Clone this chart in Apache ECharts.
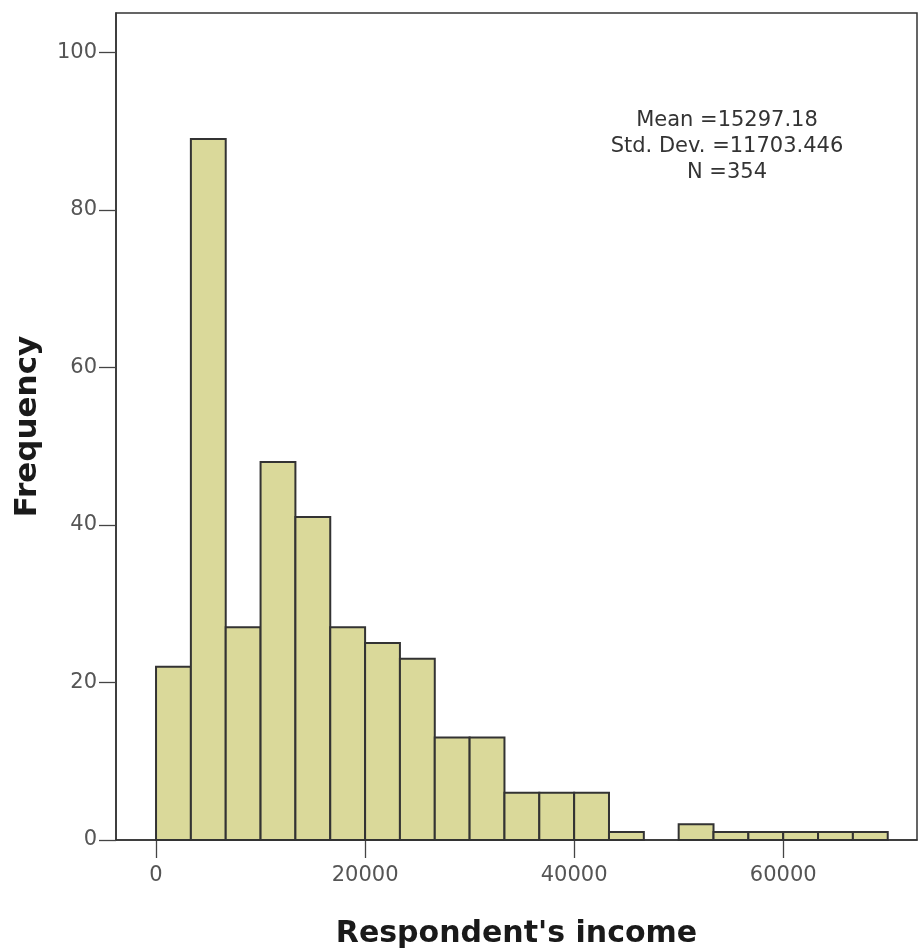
<!DOCTYPE html>
<html>
<head>
<meta charset="utf-8">
<script src="https://cdn.jsdelivr.net/npm/echarts@6/dist/echarts.min.js"></script>
<style>html,body{margin:0;padding:0;background:#fff;}#c{width:919px;height:949px;}</style>
</head>
<body>
<div id="c"></div>
<script>
// Histogram of respondent's income: 21 bins of equal width from 0 to 70000
const binWidth = 70000 / 21;
const binStarts = [0,1,2,3,4,5,6,7,8,9,10,11,12,13,14,15,16,17,18,19,20].map(i => i * binWidth);
const counts = [22, 89, 27, 48, 41, 27, 25, 23, 13, 13, 6, 6, 6, 1, 0, 2, 1, 1, 1, 1, 1];
const xTicks = [0, 20000, 40000, 60000];
const yTicks = [0, 20, 40, 60, 80, 100];
const statsLines = ['Mean =15297.18', 'Std. Dev. =11703.446', 'N =354'];

const data = binStarts.map((s, i) => [s, s + binWidth, counts[i]]).filter(d => d[2] > 0);

const chart = echarts.init(document.getElementById('c'), null, {renderer: 'canvas'});
chart.setOption({
  backgroundColor: '#fff',
  animation: false,
  grid: {left: 116, top: 13, right: 2, bottom: 109, outerBoundsMode: 'none', containLabel: false, show: true, borderColor: '#333', borderWidth: 1.5, backgroundColor: 'transparent'},
  xAxis: {
    type: 'value', min: -3830, max: 72800,
    name: "Respondent's income", nameLocation: 'middle', nameGap: 79,
    nameTextStyle: {fontFamily: 'DejaVu Sans', fontWeight: 'bold', fontSize: 30, color: '#1a1a1a'},
    axisLine: {show: true, lineStyle: {color: '#333', width: 1.5}},
    axisTick: {show: true, length: 18, customValues: xTicks, lineStyle: {color: '#444', width: 1.3}},
    axisLabel: {customValues: xTicks, formatter: v => String(v), fontFamily: 'DejaVu Sans', fontSize: 21, color: '#555', margin: 25},
    splitLine: {show: false}
  },
  yAxis: {
    type: 'value', min: 0, max: 105,
    name: 'Frequency', nameLocation: 'middle', nameGap: 73,
    nameTextStyle: {fontFamily: 'DejaVu Sans', fontWeight: 'bold', fontSize: 31, color: '#1a1a1a'},
    axisLine: {show: true, onZero: false, lineStyle: {color: '#333', width: 1.5}},
    axisTick: {show: true, length: 17, customValues: yTicks, lineStyle: {color: '#444', width: 1.3}},
    axisLabel: {customValues: yTicks, fontFamily: 'DejaVu Sans', fontSize: 21, color: '#555', margin: 19},
    splitLine: {show: false}
  },
  graphic: [{
    type: 'text', x: 727, y: 108,
    style: {text: statsLines.join('\n'), fontFamily: 'DejaVu Sans', fontSize: 21, lineHeight: 26, fill: '#333', align: 'center', verticalAlign: 'top'}
  }],
  series: [{
    type: 'custom',
    data: data,
    encode: {x: [0, 1], y: 2},
    renderItem: function (params, api) {
      const p0 = api.coord([api.value(0), 0]);
      const p1 = api.coord([api.value(1), api.value(2)]);
      return {
        type: 'rect',
        shape: {x: p0[0], y: p1[1], width: p1[0] - p0[0], height: p0[1] - p1[1]},
        style: {fill: '#dad99a', stroke: '#333', lineWidth: 2}
      };
    }
  }]
});
</script>
</body>
</html>
